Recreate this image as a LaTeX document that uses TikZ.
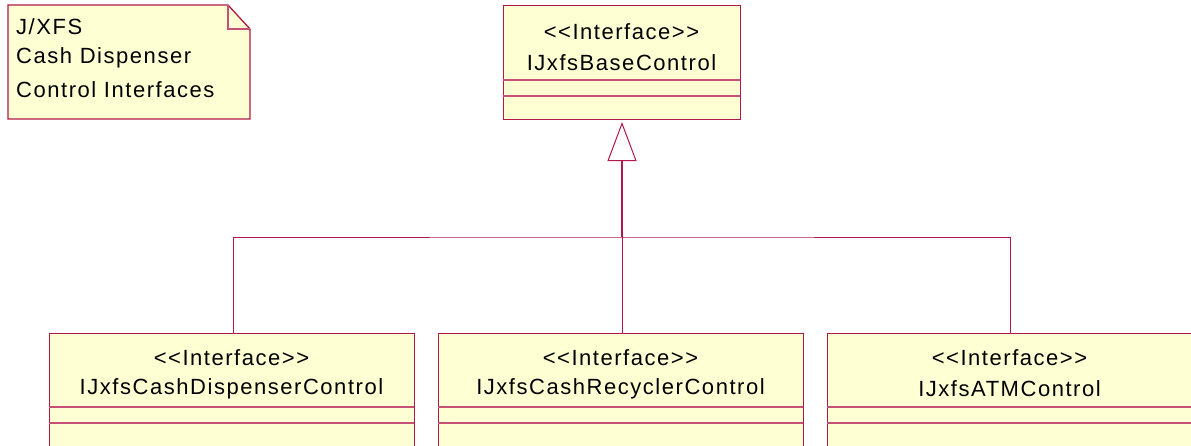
\documentclass[tikz,border=0pt]{standalone}
\usepackage{fontspec}
\setmainfont{Liberation Sans}[LetterSpace=7, Ligatures=TeXOff]
\usetikzlibrary{arrows.meta}
\definecolor{umlline}{RGB}{178,24,72}
\definecolor{umlfill}{RGB}{255,255,212}
\tikzset{
  classbox/.style={draw=umlline, fill=umlfill, line width=1.3pt, rectangle, anchor=north west, inner sep=0pt, minimum width=#1},
  sep/.style={draw=umlline!75, line width=1.1pt},
  txt/.style={inner sep=0pt, font=\fontsize{22}{26}\selectfont, text=black},
  edge/.style={draw=umlline, line width=0.9pt},
  gen/.style={edge, line width=1.6pt, -{Triangle[open, length=39pt, width=29pt, line width=1pt, fill=white]}, shorten >=3pt},
}
\begin{document}
\begin{tikzpicture}[x=1pt, y=-1pt]
\useasboundingbox (0,0) rectangle (1191,445);
\clip (0,0) rectangle (1191,445);
% note
\draw[umlline, fill=umlfill, line width=1.3pt] (8,5) -- (228,5) -- (250,29) -- (250,119) -- (8,119) -- cycle;
\draw[umlline!75, line width=1.1pt] (228,5) -- (228,29) -- (250,29);
\node[txt, anchor=west] (n1) at (16,27) {J/XFS};
\node[txt, anchor=west] (n2) at (16,58) {Cash Dispenser};
\node[txt, anchor=west] (n3) at (16,90) {Control Interfaces};
% base class
\node[classbox=237pt, minimum height=114pt] (base) at (503,5) {};
\draw[sep] (503,80) -- (740,80);
\draw[sep] (503,96) -- (740,96);
\node[txt] (bst) at (621.5,32) {<<Interface>>};
\node[txt] (bnm) at (621.5,63) {IJxfsBaseControl};
% children
\node[classbox=365pt, minimum height=130pt] (c1) at (49,333) {};
\node[classbox=365pt, minimum height=130pt] (c2) at (438,333) {};
\node[classbox=365pt, minimum height=130pt] (c3) at (827,333) {};
\foreach \x in {49,438,827}{
  \draw[sep] (\x,407) -- ++(365,0);
  \draw[sep] (\x,423) -- ++(365,0);
}
\node[txt] (s1) at (231.5,358) {<<Interface>>};
\node[txt] (m1) at (231.5,389) {IJxfsCashDispenserControl};
\node[txt] (s2) at (620.5,358) {<<Interface>>};
\node[txt] (m2) at (620.5,389) {IJxfsCashRecyclerControl};
\node[txt] (s3) at (1009.5,358) {<<Interface>>};
\node[txt] (m3) at (1009.5,389) {IJxfsATMControl};
% connectors
\coordinate (j) at (622,237);
\coordinate (c1t) at (233,333);
\coordinate (c2t) at (622,333);
\coordinate (c3t) at (1010,333);
\coordinate (bb) at (622,119);
\draw[edge] (c1t) |- (j) -| (c3t);
\draw[edge] (c2t) -- (j);
\draw[gen] (j) -- (bb);
\end{tikzpicture}
\end{document}
